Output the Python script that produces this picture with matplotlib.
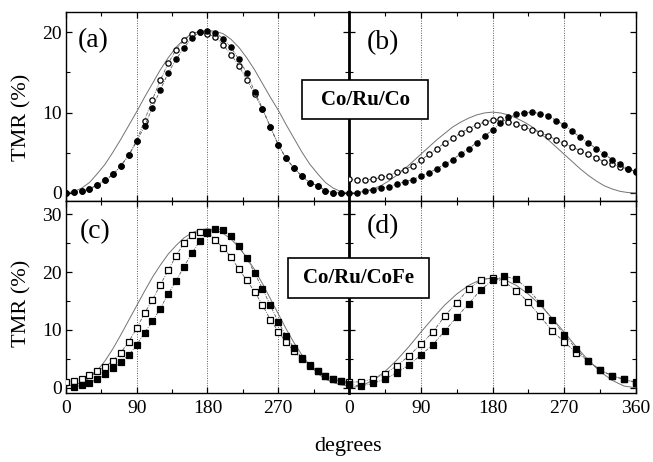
import matplotlib.pyplot as plt
from matplotlib.patches import Rectangle
from matplotlib.ticker import MultipleLocator

plt.rcParams['font.family'] = ['Liberation Serif', 'DejaVu Serif']

# angles (degrees)
ang10 = list(range(0, 361, 10))
ang10_c = list(range(10, 361, 10))
ang15 = list(range(0, 361, 15))

# (a) Co/Ru/Co, left half
a_filled = [0, 0.1, 0.25, 0.5, 1.0, 1.6, 2.3, 3.4, 4.7, 6.4, 8.3, 10.6, 12.8, 14.9, 16.6, 18.0, 19.3, 20.0, 20.1,
            19.9, 19.2, 18.1, 16.6, 14.9, 12.6, 10.5, 8.2, 6.0, 4.3, 3.1, 2.1, 1.3, 0.9, 0.3, 0.05, 0.0, 0.0]
a_open = [0, 0.1, 0.25, 0.5, 1.0, 1.6, 2.3, 3.4, 4.7, 6.5, 9.0, 11.6, 14.0, 16.1, 17.8, 19.0, 19.8, 20.0, 19.8,
          19.4, 18.4, 17.2, 15.8, 14.1, 12.3, 10.4, 8.2, 6.0, 4.3, 3.1, 2.1, 1.3, 0.9, 0.3, 0.05, 0.0, 0.0]
a_theory = [0, 0.15, 0.6, 1.3, 2.4, 3.6, 5.1, 6.7, 8.4, 10.1, 11.9, 13.6, 15.3, 16.8, 18.1, 19.1, 19.8, 20.1, 20.2,
            20.1, 19.8, 19.1, 18.1, 16.8, 15.3, 13.6, 11.9, 10.3, 8.5, 6.8, 5.1, 3.6, 2.4, 1.3, 0.6, 0.15, 0]

# (b) Co/Ru/Co, right half
b_filled = [0, 0, 0.2, 0.4, 0.6, 0.8, 1.1, 1.4, 1.65, 2.1, 2.5, 3.0, 3.6, 4.1, 4.9, 5.5, 6.25, 7.1, 7.8,
            8.65, 9.4, 9.8, 10.0, 10.05, 9.85, 9.6, 9.0, 8.45, 7.7, 6.9, 6.25, 5.5, 4.85, 4.15, 3.6, 3.0, 2.6]
b_open = [1.7, 1.6, 1.65, 1.7, 1.95, 2.15, 2.6, 2.9, 3.4, 4.05, 4.8, 5.5, 6.2, 6.8, 7.45, 8.0, 8.5, 8.8, 9.05,
          9.15, 8.85, 8.6, 8.2, 7.85, 7.5, 7.1, 6.6, 6.15, 5.7, 5.25, 4.8, 4.35, 3.9, 3.6, 3.2, 3.0, 2.7]
b_theory = [0, 0.05, 0.2, 0.5, 0.9, 1.5, 2.2, 3.0, 3.9, 4.8, 5.7, 6.6, 7.4, 8.2, 8.8, 9.3, 9.7, 9.95, 10.05,
            9.95, 9.7, 9.3, 8.8, 8.2, 7.4, 6.6, 5.7, 4.8, 3.9, 3.0, 2.2, 1.5, 0.9, 0.5, 0.2, 0.05, 0]

# (c) Co/Ru/CoFe, left half
c_filled = [0.1, 0.45, 0.9, 1.5, 2.3, 3.35, 4.5, 5.65, 7.4, 9.5, 11.5, 13.7, 16.2, 18.5, 20.9, 23.25, 25.3, 26.8,
            27.45, 27.3, 26.2, 24.5, 22.4, 19.85, 17.1, 14.25, 11.4, 8.95, 6.9, 5.2, 3.9, 2.95, 2.0, 1.5, 1.15, 0.6]
c_open = [1.05, 1.2, 1.6, 2.2, 2.9, 3.65, 4.7, 6.1, 8.0, 10.3, 12.9, 15.2, 17.8, 20.3, 22.8, 25.0, 26.5, 27.0, 27.0,
          25.5, 24.2, 22.6, 20.5, 18.6, 16.6, 14.3, 11.8, 9.7, 7.9, 6.3, 5.0, 3.8, 2.9, 2.0, 1.5, 1.1, 1.0]
c_theory = [0.3, 0.5, 0.9, 1.7, 3.0, 4.7, 6.8, 9.2, 11.7, 14.2, 16.7, 19.1, 21.2, 23.1, 24.6, 25.9, 26.8, 27.3, 27.5,
            27.3, 26.7, 25.7, 24.3, 22.5, 20.4, 18.0, 15.4, 12.8, 10.2, 7.8, 5.7, 3.9, 2.5, 1.5, 0.9, 0.5, 0.3]

# (d) Co/Ru/CoFe, right half
d_filled = [0.6, 0.3, 0.75, 1.5, 2.6, 3.9, 5.65, 7.45, 9.8, 12.2, 14.5, 16.9, 18.6,
            19.3, 18.75, 17.0, 14.6, 11.8, 9.2, 6.7, 4.6, 3.05, 2.1, 1.45, 0.9]
d_open = [0.95, 1.05, 1.5, 2.4, 3.8, 5.5, 7.5, 9.6, 12.4, 14.7, 17.1, 18.6, 19.0,
          18.3, 16.8, 14.8, 12.35, 9.8, 7.95, 6.05, 4.7, 3.1, 2.05, 1.45, 0.95]
d_theory = [0, 0.3, 1.3, 2.8, 4.8, 7.1, 9.6, 12.0, 14.3, 16.2, 17.7, 18.7, 19.0,
            18.7, 17.7, 16.2, 14.3, 12.0, 9.6, 7.1, 4.8, 2.8, 1.3, 0.3, 0]

W, Hpx = 653, 462
fig = plt.figure(figsize=(W / 100, Hpx / 100), dpi=100)
L, M, R = 65.9 / W, 349 / W, 636 / W
T, C, B = 1 - 12 / Hpx, 1 - 201 / Hpx, 1 - 393 / Hpx

ax_a = fig.add_axes([L, C, M - L, T - C])
ax_b = fig.add_axes([M, C, R - M, T - C])
ax_c = fig.add_axes([L, B, M - L, C - B])
ax_d = fig.add_axes([M, B, R - M, C - B])


def panel(ax, ang_f, filled, ang_o, opened, ang_t, theory, marker, ms):
    ax.plot(ang_t, theory, color='0.45', lw=0.7, zorder=2)
    ax.plot(ang_o, opened, color='0.35', lw=0.6, ls=(0, (4, 1.5, 1, 1.5)), marker=marker, ms=ms,
            mfc='white', mec='black', mew=0.9, zorder=3)
    ax.plot(ang_f, filled, color='0.35', lw=0.6, ls=(0, (4, 1.5, 1, 1.5)), marker=marker, ms=ms,
            mfc='black', mec='black', mew=0.9, zorder=4)
    for x in (90, 180, 270):
        ax.axvline(x, color='0.35', ls=(0, (1, 1.5)), lw=0.7, zorder=1)
    ax.set_xlim(0, 360)
    ax.set_xticks([0, 90, 180, 270, 360])
    ax.xaxis.set_minor_locator(MultipleLocator(45))
    ax.yaxis.set_major_locator(MultipleLocator(10))
    ax.yaxis.set_minor_locator(MultipleLocator(5))
    ax.tick_params(which='both', direction='in', top=True, right=True, labelsize=14)
    ax.tick_params(which='major', length=4, width=0.9)
    ax.tick_params(which='minor', length=3, width=0.8)
    ax.tick_params(axis='y', pad=3)
    ax.tick_params(axis='x', pad=5)
    for s in ax.spines.values():
        s.set_linewidth(1.0)


panel(ax_a, ang10, a_filled, ang10, a_open, ang10, a_theory, 'o', 3.8)
panel(ax_b, ang10, b_filled, ang10, b_open, ang10, b_theory, 'o', 3.8)
panel(ax_c, ang10_c, c_filled, ang10, c_open, ang10, c_theory, 's', 3.8)
panel(ax_d, ang15, d_filled, ang15, d_open, ang15, d_theory, 's', 3.8)

for ax in (ax_a, ax_b):
    ax.set_ylim(-1.0, 22.5)
    ax.tick_params(labelbottom=False)
for ax in (ax_c, ax_d):
    ax.set_ylim(-0.9, 32.3)
for ax in (ax_b, ax_d):
    ax.tick_params(labelleft=False)
    ax.spines['left'].set_linewidth(2.0)
ax_c.set_xticklabels(['0', '90', '180', '270', ''])
ax_d.set_xticklabels(['0', '90', '180', '270', '360'])

ax_a.text(78 / W, 1 - 41 / Hpx, '(a)', transform=fig.transFigure, fontsize=20, va='center', ha='left')
ax_b.text(383 / W, 1 - 43 / Hpx, '(b)', transform=fig.transFigure, fontsize=20, va='center', ha='center')
ax_c.text(80 / W, 1 - 232 / Hpx, '(c)', transform=fig.transFigure, fontsize=20, va='center', ha='left')
ax_d.text(383 / W, 1 - 227 / Hpx, '(d)', transform=fig.transFigure, fontsize=20, va='center', ha='center')

fig.text(22 / W, 1 - 117 / Hpx, 'TMR (%)', rotation=90, fontsize=16, ha='center', va='center')
fig.text(22 / W, 1 - 303 / Hpx, 'TMR (%)', rotation=90, fontsize=16, ha='center', va='center')
fig.text(348 / W, 1 - 447 / Hpx, 'degrees', fontsize=16, ha='center', va='center')

for (x0, x1, y0, y1, label) in [(302, 428, 80, 119, 'Co/Ru/Co'), (288, 429, 258, 298, 'Co/Ru/CoFe')]:
    fig.add_artist(Rectangle((x0 / W, 1 - y1 / Hpx), (x1 - x0) / W, (y1 - y0) / Hpx,
                             transform=fig.transFigure, facecolor='white', edgecolor='black',
                             lw=1.2, zorder=10))
    fig.text((x0 + x1) / 2 / W, 1 - (y0 + y1) / 2 / Hpx, label, fontsize=15, fontweight='bold',
             ha='center', va='center', zorder=11)

fig.savefig('out.png', dpi=100)
